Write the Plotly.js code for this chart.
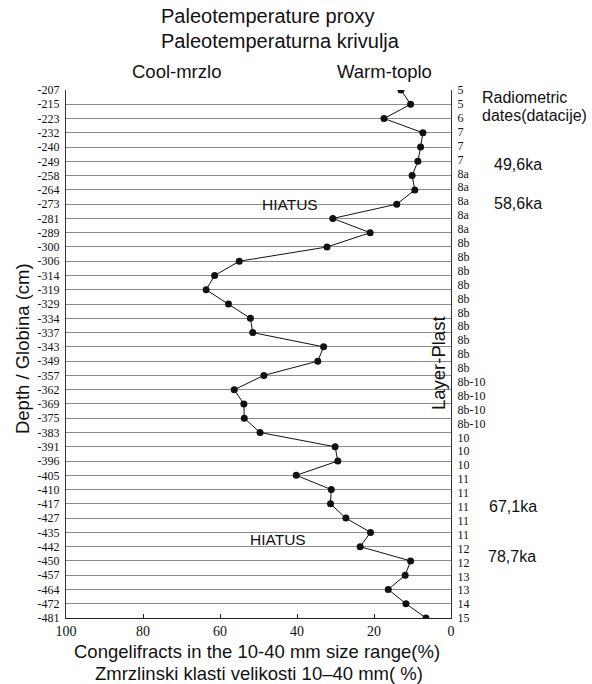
<!DOCTYPE html>
<html>
<head>
<meta charset="utf-8">
<script src="https://cdn.plot.ly/plotly-3.0.1.min.js"></script>
<style>html,body{margin:0;padding:0;background:#fff;}#chart{width:592px;height:684px;}</style>
</head>
<body>
<div id="chart"></div>
<script>
const depths = ["-207","-215","-223","-232","-240","-249","-258","-264","-273","-281","-289","-300","-306","-314","-319","-329","-334","-337","-343","-349","-357","-362","-369","-375","-383","-391","-396","-405","-410","-417","-427","-435","-442","-450","-457","-464","-472","-481"];
const congelifracts = [13.0,10.5,17.4,7.3,7.9,8.6,10.1,9.4,14.1,30.7,21.0,32.2,55.0,61.4,63.6,57.8,52.1,51.5,33.1,34.6,48.6,56.3,53.8,53.7,49.6,30.1,29.4,40.2,31.1,31.3,27.3,20.9,23.6,10.5,11.9,16.3,11.7,6.5];
const layers = ["5","5","6","7","7","7","8a","8a","8a","8a","8a","8b","8b","8b","8b","8b","8b","8b","8b","8b","8b","8b-10","8b-10","8b-10","8b-10","10","10","10","11","11","11","11","11","12","12","13","13","14","15"];
const xTicks = [100,80,60,40,20,0];

const L = 65.5, R = 451, T = 90, B = 618;
const W = 592, H = 684;
const px = x => (x - L) / (R - L);
const py = y => (B - y) / (B - T);

const sans = "Liberation Sans";
const serif = "Liberation Serif";

function ann(text, x, y, size, opts) {
  return Object.assign({
    text: text, xref: 'paper', yref: 'paper', x: px(x), y: py(y),
    showarrow: false, xanchor: 'center', yanchor: 'middle',
    font: {family: sans, size: size, color: '#111'}
  }, opts || {});
}

const trace = {
  type: 'scatter', mode: 'lines+markers',
  x: congelifracts, y: depths,
  line: {color: '#111', width: 1},
  marker: {color: '#111', size: 7},
  cliponaxis: true,
  hoverinfo: 'x+y'
};

// empty trace so that the right-hand layer axis is drawn
const layerAxisTrace = {
  type: 'scatter', mode: 'markers', x: [], y: [], yaxis: 'y2',
  showlegend: false, hoverinfo: 'skip'
};

const layout = {
  width: W, height: H,
  margin: {l: L, r: W - R, t: T, b: H - B, pad: 0},
  paper_bgcolor: '#fff', plot_bgcolor: '#fff',
  showlegend: false,
  font: {family: sans},
  xaxis: {
    range: [100, 0], tickvals: xTicks, ticktext: xTicks.map(String),
    ticks: 'inside', ticklen: 4, tickcolor: '#222', tickwidth: 1,
    showgrid: false, zeroline: false, showline: true, linecolor: '#222', linewidth: 1,
    tickfont: {family: serif, size: 14, color: '#111'}
  },
  yaxis: {
    type: 'category', categoryorder: 'array', categoryarray: depths,
    range: [depths.length - 1, 0],
    showgrid: true, gridcolor: '#8a8a8a', gridwidth: 1,
    ticks: '', showline: true, linecolor: '#333', linewidth: 1, zeroline: false,
    tickfont: {family: serif, size: 12, color: '#111'},
    ticklabelstandoff: 3
  },
  yaxis2: {
    overlaying: 'y', side: 'right', anchor: 'x', range: [layers.length - 1, 0],
    tickmode: 'array', tickvals: layers.map((_, i) => i), ticktext: layers,
    showgrid: false, zeroline: false, ticks: '', showline: true, linecolor: '#333', linewidth: 1,
    tickfont: {family: serif, size: 12, color: '#111'},
    ticklabelstandoff: 3
  },
  annotations: [
    ann('Paleotemperature proxy', 159, 16, 20, {xanchor: 'left'}),
    ann('Paleotemperaturna krivulja', 159, 41, 20, {xanchor: 'left'}),
    ann('Cool-mrzlo', 176, 72, 18.5),
    ann('Warm-toplo', 384.5, 72, 18.5),
    ann('Radiometric', 480.5, 97, 16, {xanchor: 'left'}),
    ann('dates(datacije)', 480.5, 116, 16, {xanchor: 'left'}),
    ann('49,6ka', 492.5, 164, 16, {xanchor: 'left'}),
    ann('58,6ka', 492.5, 203, 16, {xanchor: 'left'}),
    ann('67,1ka', 487, 506, 16, {xanchor: 'left'}),
    ann('78,7ka', 486, 556, 16, {xanchor: 'left'}),
    ann('HIATUS', 289.5, 204, 15.5),
    ann('HIATUS', 278, 539.5, 15.5),
    ann('Layer-Plast', 438, 363, 18.5, {textangle: -90}),
    ann('Depth / Globina (cm)', 21.5, 349, 18.5, {textangle: -90}),
    ann('Congelifracts in the 10-40 mm size range(%)', 256.7, 651.5, 18.5),
    ann('Zmrzlinski klasti velikosti 10–40 mm( %)', 259, 673, 18.5)
  ]
};

Plotly.newPlot('chart', [trace, layerAxisTrace], layout, {displayModeBar: false, staticPlot: true});
</script>
</body>
</html>
